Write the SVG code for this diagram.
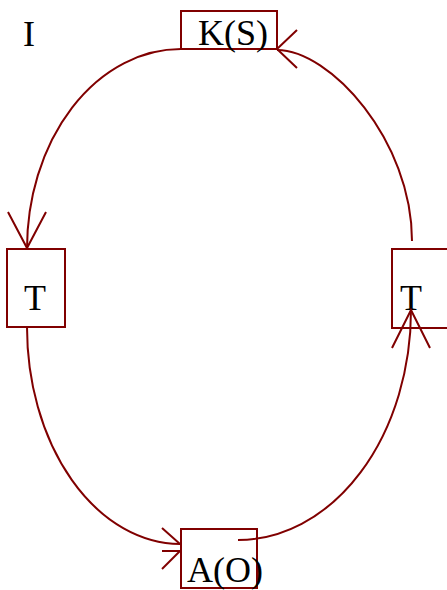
<svg xmlns="http://www.w3.org/2000/svg" width="447" height="590" viewBox="0 0 447 590">
  <style>
    .box { fill: none; stroke: #800000; stroke-width: 2; }
    .edge { fill: none; stroke: #800000; stroke-width: 2; }
    .head { fill: none; stroke: #800000; stroke-width: 2; }
    .lbl { font-family: "Liberation Serif", "Times New Roman", serif; font-size: 36px; fill: #000; }
  </style>
  <rect width="447" height="590" fill="#fff"/>

  <text class="lbl" x="29" y="46" text-anchor="middle">I</text>

  <g id="node-ks">
    <rect class="box" x="181" y="11" width="96" height="38"/>
    <text class="lbl" x="233" y="45" text-anchor="middle">K(S)</text>
  </g>

  <g id="node-t-left">
    <rect class="box" x="7" y="249" width="58" height="78"/>
    <text class="lbl" x="35" y="310" text-anchor="middle">T</text>
  </g>

  <g id="node-t-right">
    <rect class="box" x="392" y="249" width="62" height="79"/>
    <text class="lbl" x="411" y="310" text-anchor="middle">T</text>
  </g>

  <g id="node-ao">
    <rect class="box" x="181" y="529" width="76" height="59"/>
    <text class="lbl" x="187" y="582">A(O)</text>
  </g>

  <g id="connectors">
    <!-- K(S) to left T -->
    <path class="edge" d="M181 49 A154 200 0 0 0 27 249"/>
    <polyline class="head" points="8,212 27,248 46,212"/>
    <!-- left T to A(O) -->
    <path class="edge" d="M27 327 A154 217 0 0 0 180 544"/>
    <polyline class="head" points="162,528 180,544"/>
    <line class="head" x1="162" y1="551" x2="180" y2="551"/>
    <polyline class="head" points="162,569 180,551"/>
    <!-- A(O) to right T -->
    <path class="edge" d="M238 540 A173 230 0 0 0 411 310"/>
    <polyline class="head" points="392,348 411,310 430,348"/>
    <!-- right T to K(S) -->
    <path class="edge" d="M412 241 C412 140 330 50 277 50"/>
    <polyline class="head" points="297,30 277,49 297,68"/>
  </g>
</svg>
